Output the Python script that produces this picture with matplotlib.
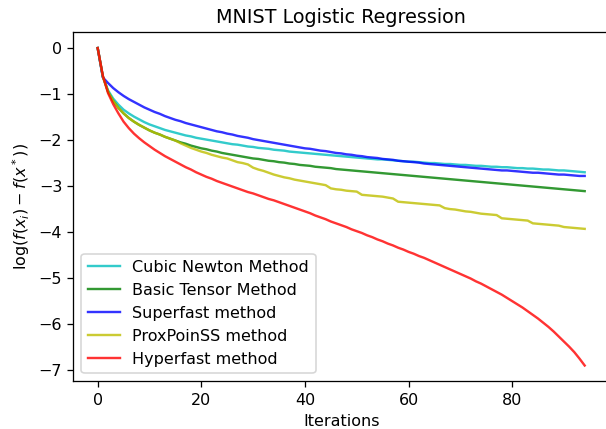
import numpy as np
import matplotlib
matplotlib.use("Agg")
import matplotlib.pyplot as plt

iterations = np.arange(95)

cubic_newton = [
    0.00, -0.62, -0.92, -1.10, -1.23, -1.34, -1.42, -1.49, -1.55, -1.61,
    -1.66, -1.70, -1.74, -1.78, -1.81, -1.84, -1.87, -1.90, -1.92, -1.95,
    -1.97, -1.99, -2.01, -2.03, -2.05, -2.07, -2.09, -2.10, -2.12, -2.14,
    -2.15, -2.17, -2.18, -2.19, -2.21, -2.22, -2.23, -2.25, -2.26, -2.27,
    -2.28, -2.29, -2.30, -2.31, -2.32, -2.33, -2.34, -2.35, -2.36, -2.37,
    -2.38, -2.39, -2.40, -2.41, -2.42, -2.42, -2.43, -2.44, -2.45, -2.46,
    -2.47, -2.47, -2.48, -2.49, -2.50, -2.50, -2.51, -2.52, -2.52, -2.53,
    -2.54, -2.54, -2.55, -2.56, -2.56, -2.57, -2.58, -2.58, -2.59, -2.59,
    -2.60, -2.61, -2.61, -2.62, -2.62, -2.63, -2.64, -2.64, -2.65, -2.66,
    -2.66, -2.67, -2.68, -2.69, -2.70,
]

basic_tensor = [
    0.00, -0.62, -0.95, -1.15, -1.30, -1.42, -1.52, -1.60, -1.67, -1.73,
    -1.79, -1.84, -1.88, -1.93, -1.97, -2.01, -2.05, -2.08, -2.12, -2.15,
    -2.18, -2.20, -2.23, -2.25, -2.28, -2.30, -2.32, -2.34, -2.36, -2.38,
    -2.40, -2.41, -2.43, -2.45, -2.46, -2.48, -2.49, -2.51, -2.52, -2.54,
    -2.55, -2.56, -2.58, -2.59, -2.60, -2.61, -2.63, -2.64, -2.65, -2.66,
    -2.67, -2.68, -2.69, -2.70, -2.71, -2.72, -2.73, -2.74, -2.75, -2.76,
    -2.77, -2.78, -2.79, -2.80, -2.81, -2.82, -2.83, -2.84, -2.85, -2.86,
    -2.87, -2.88, -2.89, -2.90, -2.91, -2.92, -2.93, -2.94, -2.95, -2.96,
    -2.97, -2.98, -2.99, -3.00, -3.01, -3.02, -3.03, -3.04, -3.05, -3.06,
    -3.07, -3.08, -3.09, -3.10, -3.11,
]

superfast = [
    0.00, -0.64, -0.76, -0.87, -0.96, -1.04, -1.11, -1.17, -1.23, -1.29,
    -1.34, -1.39, -1.43, -1.48, -1.52, -1.56, -1.59, -1.63, -1.66, -1.69,
    -1.72, -1.75, -1.78, -1.81, -1.83, -1.86, -1.88, -1.91, -1.93, -1.95,
    -1.98, -2.00, -2.02, -2.04, -2.06, -2.08, -2.10, -2.12, -2.14, -2.16,
    -2.18, -2.19, -2.21, -2.23, -2.24, -2.26, -2.28, -2.29, -2.31, -2.32,
    -2.34, -2.35, -2.37, -2.38, -2.39, -2.41, -2.42, -2.43, -2.45, -2.46,
    -2.47, -2.48, -2.49, -2.51, -2.52, -2.53, -2.54, -2.55, -2.56, -2.57,
    -2.58, -2.59, -2.60, -2.61, -2.62, -2.63, -2.64, -2.65, -2.66, -2.66,
    -2.67, -2.68, -2.69, -2.70, -2.71, -2.71, -2.72, -2.73, -2.74, -2.75,
    -2.75, -2.76, -2.77, -2.78, -2.78,
]

proxpoinss = [
    0.00, -0.62, -0.95, -1.15, -1.30, -1.42, -1.52, -1.60, -1.67, -1.73,
    -1.79, -1.84, -1.88, -1.93, -1.97, -2.01, -2.07, -2.12, -2.17, -2.21,
    -2.25, -2.28, -2.32, -2.35, -2.38, -2.40, -2.44, -2.48, -2.50, -2.53,
    -2.60, -2.64, -2.67, -2.71, -2.75, -2.78, -2.81, -2.83, -2.86, -2.88,
    -2.90, -2.92, -2.94, -2.96, -2.98, -3.05, -3.07, -3.08, -3.10, -3.11,
    -3.12, -3.19, -3.20, -3.21, -3.22, -3.23, -3.25, -3.27, -3.34, -3.35,
    -3.36, -3.37, -3.38, -3.39, -3.40, -3.41, -3.42, -3.48, -3.50, -3.51,
    -3.53, -3.55, -3.56, -3.58, -3.60, -3.61, -3.62, -3.63, -3.70, -3.71,
    -3.72, -3.73, -3.74, -3.75, -3.81, -3.82, -3.83, -3.84, -3.85, -3.86,
    -3.89, -3.90, -3.91, -3.92, -3.93,
]

hyperfast = [
    0.00, -0.60, -0.98, -1.22, -1.42, -1.60, -1.74, -1.86, -1.96, -2.05,
    -2.13, -2.21, -2.28, -2.35, -2.41, -2.47, -2.53, -2.59, -2.64, -2.70,
    -2.75, -2.80, -2.84, -2.89, -2.93, -2.97, -3.01, -3.05, -3.09, -3.13,
    -3.16, -3.20, -3.24, -3.28, -3.31, -3.35, -3.39, -3.43, -3.47, -3.51,
    -3.55, -3.59, -3.64, -3.68, -3.72, -3.77, -3.81, -3.85, -3.89, -3.94,
    -3.98, -4.02, -4.07, -4.11, -4.16, -4.20, -4.25, -4.29, -4.34, -4.38,
    -4.43, -4.47, -4.52, -4.56, -4.61, -4.66, -4.71, -4.76, -4.81, -4.86,
    -4.91, -4.96, -5.01, -5.07, -5.12, -5.18, -5.24, -5.30, -5.36, -5.43,
    -5.50, -5.57, -5.64, -5.72, -5.80, -5.88, -5.97, -6.06, -6.16, -6.27,
    -6.38, -6.49, -6.61, -6.75, -6.90,
]

series = [
    (cubic_newton, "c", "Cubic Newton Method"),
    (basic_tensor, "g", "Basic Tensor Method"),
    (superfast, "b", "Superfast method"),
    (proxpoinss, "y", "ProxPoinSS method"),
    (hyperfast, "r", "Hyperfast method"),
]

dpi = 115
fig = plt.figure(figsize=(606 / dpi, 429 / dpi), dpi=dpi)
ax = fig.add_axes([0.121, 0.111, 0.884, 0.814])

for values, color, label in series:
    ax.plot(iterations, values, color=color, alpha=0.8, linewidth=1.5, label=label)

ax.set_title("MNIST Logistic Regression")
ax.set_xlabel("Iterations")
ax.set_ylabel(r"$\log(f(x_i) - f(x^*))$")
ax.legend(loc="lower left")

fig.savefig("out.png", dpi=dpi)
